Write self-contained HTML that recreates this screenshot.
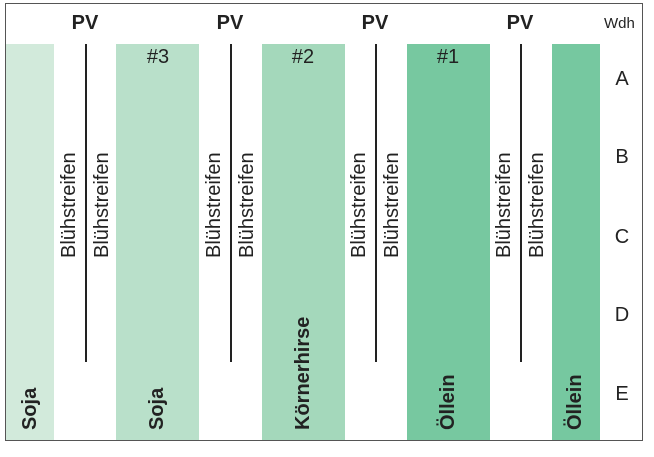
<!DOCTYPE html>
<html><head><style>
body{margin:0;width:654px;height:457px;background:#fff;position:relative;overflow:hidden;font-family:"Liberation Sans",sans-serif;color:#222}
.frame{position:absolute;left:5px;top:3px;width:636px;height:436px;border:1.5px solid #555}
.bar{position:absolute;top:44px;height:396px}
.ln{position:absolute;top:44px;height:318px;width:1.5px;background:#222}
.t{position:absolute;white-space:nowrap}
.pv{font-weight:bold;font-size:20px;top:12px;width:60px;text-align:center}
.v{position:absolute;transform-origin:0 0;transform:rotate(-90deg);white-space:nowrap;line-height:23px}
.bs{font-size:20px}
.bl{font-size:20px;font-weight:bold}
.r{font-size:20px;left:611px;width:22px;text-align:center}
</style></head><body>
<div class="frame"></div>
<div class="bar" style="left:6px;width:48px;background:#d2eadb"></div>
<div class="bar" style="left:116px;width:83px;background:#b9e0ca"></div>
<div class="bar" style="left:262px;width:83px;background:#a4d8bb"></div>
<div class="bar" style="left:407px;width:83px;background:#77c8a0"></div>
<div class="bar" style="left:552px;width:48px;background:#76c8a0"></div>
<div class="ln" style="left:85px"></div>
<div class="ln" style="left:230px"></div>
<div class="ln" style="left:375px"></div>
<div class="ln" style="left:520px"></div>
<div class="t pv" style="left:55px">PV</div>
<div class="t pv" style="left:200px">PV</div>
<div class="t pv" style="left:345px">PV</div>
<div class="t pv" style="left:490px">PV</div>
<div class="t" style="left:604px;top:15px;font-size:15px">Wdh</div>
<div class="t" style="left:128px;top:46px;width:60px;text-align:center;font-size:20px">#3</div>
<div class="t" style="left:273px;top:46px;width:60px;text-align:center;font-size:20px">#2</div>
<div class="t" style="left:418px;top:46px;width:60px;text-align:center;font-size:20px">#1</div>
<div class="t r" style="top:68px">A</div>
<div class="t r" style="top:146px">B</div>
<div class="t r" style="top:226px">C</div>
<div class="t r" style="top:304px">D</div>
<div class="t r" style="top:383px">E</div>
<div class="v bs" style="left:58px;top:258px">Blühstreifen</div>
<div class="v bs" style="left:91px;top:258px">Blühstreifen</div>
<div class="v bs" style="left:203px;top:258px">Blühstreifen</div>
<div class="v bs" style="left:236px;top:258px">Blühstreifen</div>
<div class="v bs" style="left:348px;top:258px">Blühstreifen</div>
<div class="v bs" style="left:381px;top:258px">Blühstreifen</div>
<div class="v bs" style="left:493px;top:258px">Blühstreifen</div>
<div class="v bs" style="left:526px;top:258px">Blühstreifen</div>
<div class="v bl" style="left:19px;top:430px">Soja</div>
<div class="v bl" style="left:146px;top:430px">Soja</div>
<div class="v bl" style="left:292px;top:430px">Körnerhirse</div>
<div class="v bl" style="left:437px;top:430px">Öllein</div>
<div class="v bl" style="left:564px;top:430px">Öllein</div>
</body></html>
